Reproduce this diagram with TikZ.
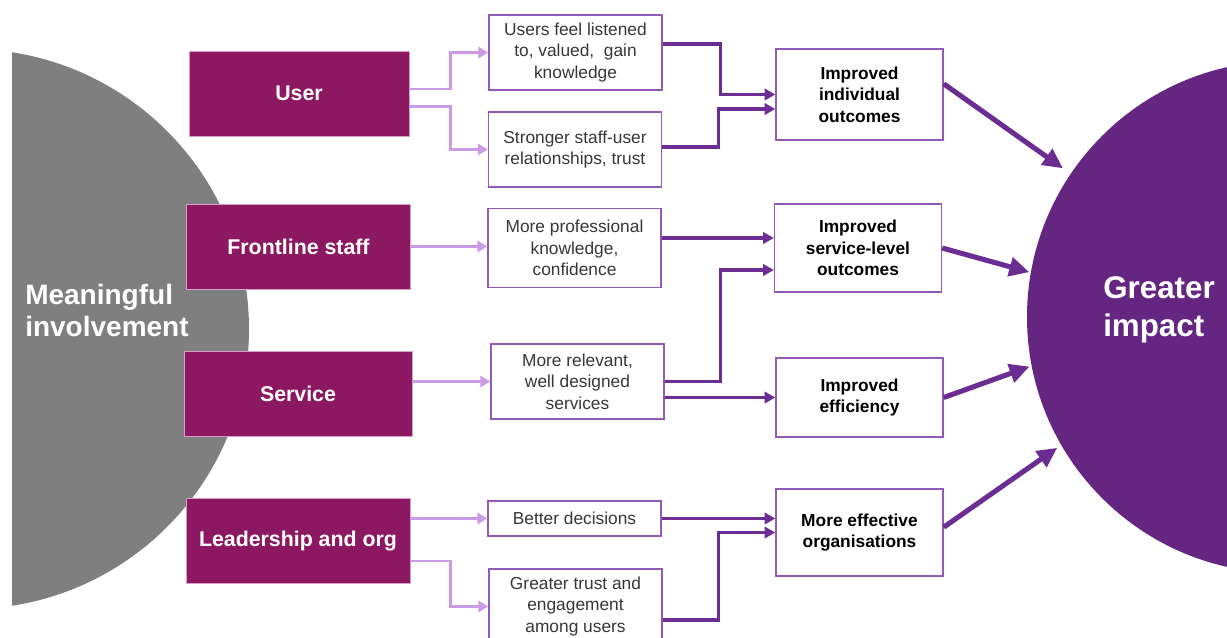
\documentclass[tikz,border=0pt]{standalone}
\usepackage{fontspec}
\setmainfont{Liberation Sans}
\usetikzlibrary{arrows.meta}

\begin{document}
\begin{tikzpicture}[x=0.75pt,y=-0.75pt,
  srcbox/.style={shape=rectangle,draw=imp_srcedge,line width=0.6pt,fill=imp_src,text=white,font=\fontsize{16}{19}\selectfont\bfseries,minimum width=168pt,minimum height=63.75pt,inner sep=0pt},
  midbox/.style={shape=rectangle,draw=imp_edge,line width=1.1pt,fill=white,text=imp_txt,font=\fontsize{13}{16}\selectfont,align=center,minimum width=129.75pt,minimum height=56.25pt,inner sep=0pt},
  outbox/.style={shape=rectangle,draw=imp_edge,line width=1.1pt,fill=white,text=black,font=\fontsize{13}{16}\selectfont\bfseries,align=center,minimum width=125.25pt,inner sep=0pt},
  lite/.style={draw=imp_lite,line width=2.2pt,-{Triangle[length=7.5pt,width=8.5pt]}},
  dark/.style={draw=imp_dark,line width=2.6pt,-{Triangle[length=8pt,width=8.5pt]}},
  bigarrow/.style={draw=imp_dark,line width=3.8pt,-{Triangle[length=15pt,width=14pt]}}]
\definecolor{imp_src}{RGB}{139,24,96}
\definecolor{imp_srcedge}{RGB}{215,160,200}
\definecolor{imp_edge}{RGB}{145,90,185}
\definecolor{imp_txt}{RGB}{55,55,55}
\definecolor{imp_lite}{RGB}{204,155,230}
\definecolor{imp_dark}{RGB}{107,45,145}
\definecolor{imp_grey}{RGB}{127,127,127}
\definecolor{imp_circle}{RGB}{100,38,128}
\useasboundingbox (0,0) rectangle (1227,637);
% involvement half disc
\begin{scope}
\clip (12,0) rectangle (400,637);
\fill[imp_grey] (-31,329) circle[radius=280];
\end{scope}
\node[anchor=west,align=left,inner sep=0pt,text=white,font=\fontsize{21}{24}\selectfont\bfseries] (meaning) at (25,310) {Meaningful\\involvement};
\node[shape=circle,fill=imp_circle,minimum size=384pt,inner sep=0pt] (impact) at (1283,317) {};
\node[anchor=west,align=left,inner sep=0pt,text=white,font=\fontsize{23.5}{28.5}\selectfont\bfseries] (impacttxt) at (1103,310) {Greater\\impact};
\node[srcbox,minimum width=165pt] (user) at (299,93.5) {User};
\node[srcbox] (front) at (298.5,246.5) {Frontline staff};
\node[srcbox,minimum width=171pt] (serv) at (298,394) {Service};
\node[srcbox] (lead) at (298,541) {Leadership and org};
\node[midbox] (feel) at (575.5,52.5) {Users feel listened\\to, valued,~ gain\\knowledge};
\node[midbox] (strong) at (575,149.5) {Stronger staff-user\\relationships, trust};
\node[midbox,minimum height=59.25pt] (prof) at (574.5,248) {More professional\\knowledge,\\confidence};
\node[midbox] (relev) at (577.5,381.5) {More relevant,\\well designed\\services};
\node[midbox,minimum height=26.25pt] (decis) at (574.5,518.5) {Better decisions};
\node[midbox] (trust) at (575.5,606.5) {Greater trust and\\engagement\\among users};
\node[outbox,minimum height=68.25pt] (indiv) at (859.5,94.5) {Improved\\individual\\outcomes};
\node[outbox,minimum height=66pt] (servlev) at (858,248) {Improved\\service-level\\outcomes};
\node[outbox,minimum height=59.25pt] (effic) at (859.5,397.5) {Improved\\efficiency};
\node[outbox,minimum height=65.25pt] (orgs) at (859.5,532.5) {More effective\\organisations};
\draw[lite] ([yshift=3.4pt]user.east) -- ++(41,0) |- (feel.west);
\draw[lite] ([yshift=-10pt]user.east) -- ++(41,0) |- (strong.west);
\draw[lite] (front.east) -- (front.east -| prof.west);
\draw[lite] (serv.east |- relev.west) -- (relev.west);
\draw[lite] (lead.east |- decis.west) -- (decis.west);
\draw[lite] ([yshift=-15pt]lead.east) -- ++(40,0) |- (trust.west);
\draw[dark] ([yshift=6.4pt]feel.east) -- ++(58,0) |- (indiv.west);
\draw[dark] ([yshift=1.9pt]strong.east) -- ++(56,0) |- ([yshift=-10.9pt]indiv.west);
\draw[dark] ([yshift=7.5pt]prof.east) |- ([yshift=7.5pt]servlev.west);
\draw[dark] (relev.east) -- ++(56,0) |- ([yshift=-16.5pt]servlev.west);
\draw[dark] ([yshift=-12pt]relev.east) |- (effic.west);
\draw[dark] (decis.east) -- (decis.east -| orgs.west);
\draw[dark] ([yshift=-10pt]trust.east) -- ++(56,0) |- (orgs.west);
\draw[bigarrow,shorten >=7pt] ([yshift=8pt]indiv.east) -- (impact.146);
\draw[bigarrow,shorten >=1pt] (servlev.east) -- (impact.170);
\draw[bigarrow,shorten >=1.5pt] (effic.east) -- (impact.191);
\draw[bigarrow,shorten >=3.5pt] ([yshift=4pt]orgs.east) -- (impact.210);
\end{tikzpicture}
\end{document}
